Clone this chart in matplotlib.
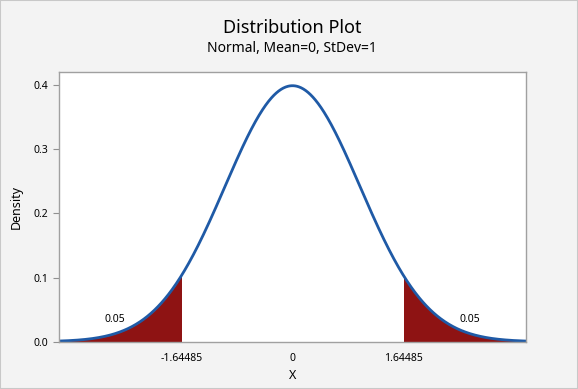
import numpy as np
import matplotlib
matplotlib.use("Agg")
import matplotlib.pyplot as plt
from matplotlib.patches import Rectangle

mean = 0.0
sd = 1.0
crit = 1.64485
tail_area = ["0.05", "0.05"]
xticks = [-1.64485, 0, 1.64485]
xticklabels = ["-1.64485", "0", "1.64485"]
yticks = [0.0, 0.1, 0.2, 0.3, 0.4]

plt.rcParams['font.family'] = ['Noto Sans', 'DejaVu Sans']

fig = plt.figure(figsize=(5.78, 3.89), dpi=100, facecolor='#f3f3f3')
fig.patches.append(Rectangle((0, 0), 1, 1, transform=fig.transFigure, fill=False,
                             edgecolor='#c8c8c8', linewidth=1.5))
ax = fig.add_axes([59/578, 1-341.7/389, (526-59)/578, (341.7-72)/389])

x = np.linspace(-3.5, 3.5, 800)
pdf = np.exp(-0.5*((x-mean)/sd)**2)/(sd*np.sqrt(2*np.pi))

fill_color = '#8e1313'
xl = x[x <= -crit]
xl = np.append(xl, -crit)
ax.fill_between(xl, np.exp(-0.5*xl**2)/np.sqrt(2*np.pi), 0, color=fill_color, lw=0)
xr = x[x >= crit]
xr = np.insert(xr, 0, crit)
ax.fill_between(xr, np.exp(-0.5*xr**2)/np.sqrt(2*np.pi), 0, color=fill_color, lw=0)
ax.plot(x, pdf, color='#1f5aa6', lw=2)

ax.text(-2.63, 0.034, tail_area[0], fontsize=7.5, ha='center', va='center')
ax.text(2.63, 0.034, tail_area[1], fontsize=7.5, ha='center', va='center')

ax.set_xlim(-3.46, 3.46)
ax.set_ylim(0, 0.4203)
ax.set_xticks(xticks)
ax.set_xticklabels(xticklabels)
ax.set_yticks(yticks)
ax.set_yticklabels([f"{v:.1f}" for v in yticks])
ax.tick_params(axis='both', labelsize=7.5, color='#909090', length=4, width=0.8)
ax.tick_params(axis='x', length=0, pad=8)
for s in ax.spines.values():
    s.set_color('#a0a0a0')
    s.set_linewidth(1.0)
ax.set_facecolor('white')
ax.set_xlabel('X', fontsize=9, labelpad=4)
ax.set_ylabel('Density', fontsize=9, labelpad=8)

fig.text(292/578, 1-28/389, 'Distribution Plot', fontsize=13, ha='center', va='center')
fig.text(292/578, 1-49/389, 'Normal, Mean=0, StDev=1', fontsize=10, ha='center', va='center')

fig.savefig('out.png', dpi=100, facecolor=fig.get_facecolor())
